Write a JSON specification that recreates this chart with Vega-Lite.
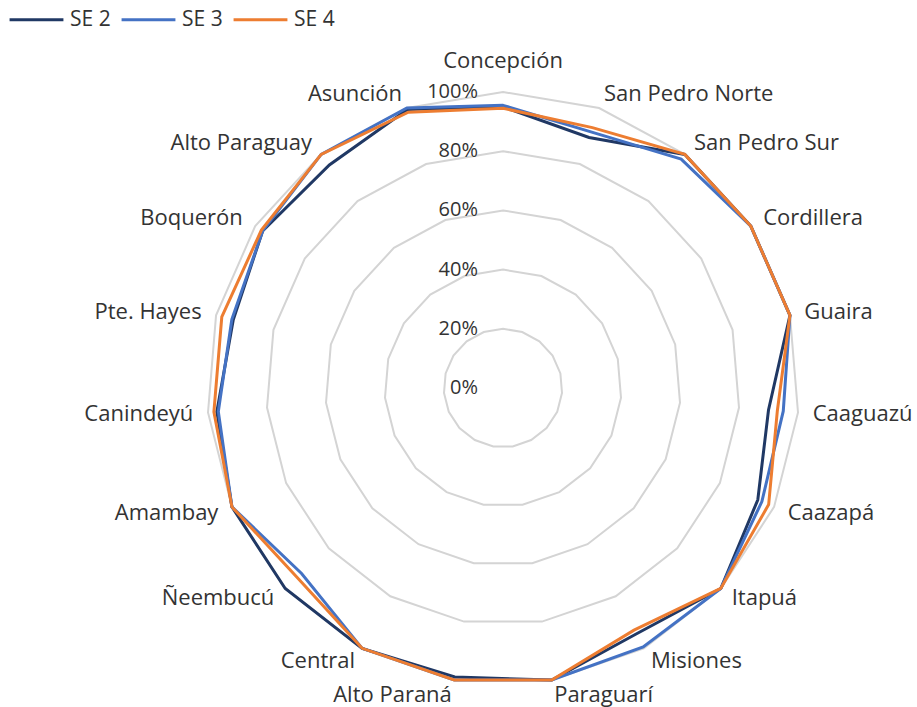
{
  "$schema": "https://vega.github.io/schema/vega-lite/v6.json",
  "width": 917,
  "height": 707,
  "autosize": "none",
  "padding": 0,
  "config": {"view": {"stroke": null}, "font": "Open Sans"},
  "datasets": {
    "scores": [
      {"region": "Concepción", "SE 2": 0.95, "SE 3": 0.955, "SE 4": 0.945},
      {"region": "San Pedro Norte", "SE 2": 0.895, "SE 3": 0.915, "SE 4": 0.93},
      {"region": "San Pedro Sur", "SE 2": 1.0, "SE 3": 0.98, "SE 4": 1.0},
      {"region": "Cordillera", "SE 2": 1.0, "SE 3": 1.0, "SE 4": 1.0},
      {"region": "Guaira", "SE 2": 1.0, "SE 3": 1.0, "SE 4": 1.0},
      {"region": "Caaguazú", "SE 2": 0.9, "SE 3": 0.95, "SE 4": 0.93},
      {"region": "Caazapá", "SE 2": 0.94, "SE 3": 0.955, "SE 4": 0.98},
      {"region": "Itapuá", "SE 2": 1.0, "SE 3": 1.0, "SE 4": 1.0},
      {"region": "Misiones", "SE 2": 0.945, "SE 3": 0.995, "SE 4": 0.93},
      {"region": "Paraguarí", "SE 2": 1.0, "SE 3": 1.0, "SE 4": 1.0},
      {"region": "Alto Paraná", "SE 2": 0.99, "SE 3": 1.0, "SE 4": 1.0},
      {"region": "Central", "SE 2": 1.0, "SE 3": 1.0, "SE 4": 1.0},
      {"region": "Ñeembucú", "SE 2": 1.0, "SE 3": 0.925, "SE 4": 0.945},
      {"region": "Amambay", "SE 2": 1.0, "SE 3": 1.0, "SE 4": 1.0},
      {"region": "Canindeyú", "SE 2": 0.97, "SE 3": 0.965, "SE 4": 0.98},
      {"region": "Pte. Hayes", "SE 2": 0.94, "SE 3": 0.945, "SE 4": 0.98},
      {"region": "Boquerón", "SE 2": 0.97, "SE 3": 0.97, "SE 4": 0.975},
      {"region": "Alto Paraguay", "SE 2": 0.955, "SE 3": 1.0, "SE 4": 1.0},
      {"region": "Asunción", "SE 2": 0.995, "SE 3": 1.0, "SE 4": 0.985}
    ],
    "ticks": [
      {"level": 0}, {"level": 0.2}, {"level": 0.4}, {"level": 0.6}, {"level": 0.8}, {"level": 1.0}
    ]
  },
  "layer": [
    {
      "data": {"name": "scores"},
      "transform": [
        {"window": [{"op": "row_number", "as": "idx"}]},
        {"calculate": "(datum.idx - 1) * 2 * PI / 19", "as": "theta"},
        {"calculate": "[0.2, 0.4, 0.6, 0.8, 1.0]", "as": "lv"},
        {"flatten": ["lv"], "as": ["level"]},
        {"calculate": "datum.level * sin(datum.theta)", "as": "gx"},
        {"calculate": "datum.level * cos(datum.theta)", "as": "gy"}
      ],
      "mark": {"type": "line", "interpolate": "linear-closed", "color": "#D4D4D4", "strokeWidth": 2},
      "encoding": {
        "x": {"field": "gx", "type": "quantitative", "scale": {"domain": [-1.6993, 1.3986], "nice": false, "zero": false}, "axis": null},
        "y": {"field": "gy", "type": "quantitative", "scale": {"domain": [-1.0777, 1.3108], "nice": false, "zero": false}, "axis": null},
        "detail": {"field": "level", "type": "nominal"},
        "order": {"field": "idx", "type": "quantitative"}
      }
    },
    {
      "data": {"name": "ticks"},
      "mark": {"type": "text", "align": "right", "baseline": "middle", "dx": -25, "fontSize": 20, "color": "#333333"},
      "encoding": {
        "x": {"datum": 0, "type": "quantitative"},
        "y": {"field": "level", "type": "quantitative"},
        "text": {"field": "level", "type": "quantitative", "format": ".0%"}
      }
    },
    {
      "data": {"name": "scores"},
      "transform": [
        {"window": [{"op": "row_number", "as": "idx"}]},
        {"calculate": "(datum.idx - 1) * 2 * PI / 19", "as": "theta"},
        {"fold": ["SE 2", "SE 3", "SE 4"], "as": ["series", "value"]},
        {"calculate": "datum.value * sin(datum.theta)", "as": "px"},
        {"calculate": "datum.value * cos(datum.theta)", "as": "py"}
      ],
      "mark": {"type": "line", "interpolate": "linear-closed", "strokeWidth": 3},
      "encoding": {
        "x": {"field": "px", "type": "quantitative"},
        "y": {"field": "py", "type": "quantitative"},
        "order": {"field": "idx", "type": "quantitative"},
        "color": {
          "field": "series",
          "type": "nominal",
          "scale": {"domain": ["SE 2", "SE 3", "SE 4"], "range": ["#203864", "#4472C4", "#ED7D31"]},
          "legend": {
            "orient": "none",
            "legendX": 8,
            "legendY": -9,
            "direction": "horizontal",
            "title": null,
            "symbolType": "stroke",
            "symbolSize": 2900,
            "symbolStrokeWidth": 3,
            "labelFontSize": 21,
            "labelColor": "#333333",
            "labelOffset": 5,
            "columnPadding": 4
          }
        }
      }
    },
    {
      "data": {"name": "scores"},
      "transform": [
        {"window": [{"op": "row_number", "as": "idx"}]},
        {"calculate": "(datum.idx - 1) * 2 * PI / 19", "as": "theta"},
        {"filter": "sin(datum.theta) > 0.05"},
        {"calculate": "1.05 * sin(datum.theta)", "as": "lx"},
        {"calculate": "1.05 * cos(datum.theta)", "as": "ly"}
      ],
      "mark": {"type": "text", "align": "left", "baseline": "middle", "fontSize": 22, "color": "#333333"},
      "encoding": {
        "x": {"field": "lx", "type": "quantitative"},
        "y": {"field": "ly", "type": "quantitative"},
        "text": {"field": "region"}
      }
    },
    {
      "data": {"name": "scores"},
      "transform": [
        {"window": [{"op": "row_number", "as": "idx"}]},
        {"calculate": "(datum.idx - 1) * 2 * PI / 19", "as": "theta"},
        {"filter": "sin(datum.theta) < -0.05"},
        {"calculate": "1.05 * sin(datum.theta)", "as": "lx"},
        {"calculate": "1.05 * cos(datum.theta)", "as": "ly"}
      ],
      "mark": {"type": "text", "align": "right", "baseline": "middle", "fontSize": 22, "color": "#333333"},
      "encoding": {
        "x": {"field": "lx", "type": "quantitative"},
        "y": {"field": "ly", "type": "quantitative"},
        "text": {"field": "region"}
      }
    },
    {
      "data": {"name": "scores"},
      "transform": [
        {"window": [{"op": "row_number", "as": "idx"}]},
        {"calculate": "(datum.idx - 1) * 2 * PI / 19", "as": "theta"},
        {"filter": "abs(sin(datum.theta)) <= 0.05"},
        {"calculate": "1.08 * sin(datum.theta)", "as": "lx"},
        {"calculate": "1.08 * cos(datum.theta)", "as": "ly"}
      ],
      "mark": {"type": "text", "align": "center", "baseline": "alphabetic", "fontSize": 22, "color": "#333333"},
      "encoding": {
        "x": {"field": "lx", "type": "quantitative"},
        "y": {"field": "ly", "type": "quantitative"},
        "text": {"field": "region"}
      }
    }
  ]
}
